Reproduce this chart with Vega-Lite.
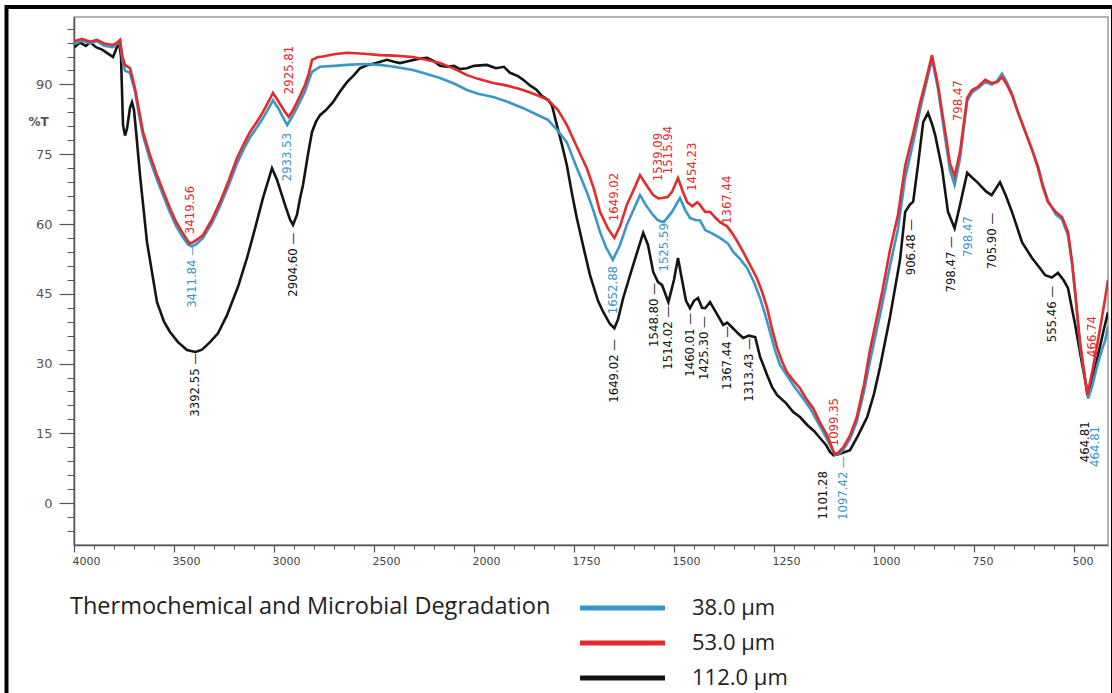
{
"$schema": "https://vega.github.io/schema/vega-lite/v6.json",
"width": 1034, "height": 528,
"autosize": "none",
"padding": {"left": 74, "top": 17, "right": 4, "bottom": 148},
"background": "white",
"config": {"view": {"stroke": "#9a9a9a", "strokeWidth": 1.5}},
"title": {"text": "Thermochemical and Microbial Degradation", "orient": "top", "anchor": "start", "frame": "group", "offset": 0, "dx": -4, "dy": 626, "baseline": "middle", "font": "Open Sans", "fontSize": 23.5, "fontWeight": "normal", "color": "#222"},
"datasets": {
"spec": [
{"s":"112.0 µm","wn":3998,"t":98.0},{"s":"112.0 µm","wn":3970,"t":99.0},{"s":"112.0 µm","wn":3940,"t":98.3},{"s":"112.0 µm","wn":3920,"t":99.1},{"s":"112.0 µm","wn":3890,"t":98.0},{"s":"112.0 µm","wn":3860,"t":97.5},{"s":"112.0 µm","wn":3835,"t":96.8},{"s":"112.0 µm","wn":3805,"t":95.9},{"s":"112.0 µm","wn":3790,"t":97.5},{"s":"112.0 µm","wn":3775,"t":99.2},{"s":"112.0 µm","wn":3765,"t":96.0},{"s":"112.0 µm","wn":3755,"t":81.3},{"s":"112.0 µm","wn":3745,"t":79.0},{"s":"112.0 µm","wn":3735,"t":80.5},{"s":"112.0 µm","wn":3720,"t":85.0},{"s":"112.0 µm","wn":3710,"t":86.2},{"s":"112.0 µm","wn":3700,"t":84.5},{"s":"112.0 µm","wn":3690,"t":80.0},{"s":"112.0 µm","wn":3670,"t":70.5},{"s":"112.0 µm","wn":3635,"t":56.1},{"s":"112.0 µm","wn":3585,"t":43.2},{"s":"112.0 µm","wn":3550,"t":39.0},{"s":"112.0 µm","wn":3520,"t":36.8},{"s":"112.0 µm","wn":3480,"t":34.6},{"s":"112.0 µm","wn":3435,"t":32.9},{"s":"112.0 µm","wn":3392.55,"t":32.5},{"s":"112.0 µm","wn":3360,"t":33.0},{"s":"112.0 µm","wn":3320,"t":34.6},{"s":"112.0 µm","wn":3280,"t":36.5},{"s":"112.0 µm","wn":3235,"t":40.4},{"s":"112.0 µm","wn":3180,"t":46.5},{"s":"112.0 µm","wn":3135,"t":52.7},{"s":"112.0 µm","wn":3095,"t":59.0},{"s":"112.0 µm","wn":3055,"t":65.6},{"s":"112.0 µm","wn":3010,"t":72.0},{"s":"112.0 µm","wn":2985,"t":69.5},{"s":"112.0 µm","wn":2945,"t":64.1},{"s":"112.0 µm","wn":2920,"t":61.0},{"s":"112.0 µm","wn":2904.6,"t":59.8},{"s":"112.0 µm","wn":2885,"t":62.0},{"s":"112.0 µm","wn":2870,"t":65.5},{"s":"112.0 µm","wn":2855,"t":68.4},{"s":"112.0 µm","wn":2830,"t":75.0},{"s":"112.0 µm","wn":2810,"t":79.8},{"s":"112.0 µm","wn":2790,"t":82.0},{"s":"112.0 µm","wn":2770,"t":83.4},{"s":"112.0 µm","wn":2740,"t":84.5},{"s":"112.0 µm","wn":2705,"t":86.2},{"s":"112.0 µm","wn":2670,"t":88.5},{"s":"112.0 µm","wn":2635,"t":90.5},{"s":"112.0 µm","wn":2600,"t":92.0},{"s":"112.0 µm","wn":2570,"t":93.5},{"s":"112.0 µm","wn":2530,"t":94.2},{"s":"112.0 µm","wn":2490,"t":94.6},{"s":"112.0 µm","wn":2435,"t":95.3},{"s":"112.0 µm","wn":2400,"t":94.9},{"s":"112.0 µm","wn":2370,"t":94.6},{"s":"112.0 µm","wn":2330,"t":95.0},{"s":"112.0 µm","wn":2280,"t":95.5},{"s":"112.0 µm","wn":2235,"t":95.7},{"s":"112.0 µm","wn":2200,"t":95.0},{"s":"112.0 µm","wn":2170,"t":94.0},{"s":"112.0 µm","wn":2135,"t":93.8},{"s":"112.0 µm","wn":2100,"t":94.0},{"s":"112.0 µm","wn":2070,"t":93.3},{"s":"112.0 µm","wn":2035,"t":93.5},{"s":"112.0 µm","wn":2000,"t":94.0},{"s":"112.0 µm","wn":1968,"t":94.2},{"s":"112.0 µm","wn":1945,"t":93.5},{"s":"112.0 µm","wn":1925,"t":93.8},{"s":"112.0 µm","wn":1910,"t":92.5},{"s":"112.0 µm","wn":1890,"t":91.8},{"s":"112.0 µm","wn":1877,"t":91.0},{"s":"112.0 µm","wn":1860,"t":89.8},{"s":"112.0 µm","wn":1843,"t":88.8},{"s":"112.0 µm","wn":1830,"t":87.5},{"s":"112.0 µm","wn":1815,"t":86.7},{"s":"112.0 µm","wn":1805,"t":85.5},{"s":"112.0 µm","wn":1793,"t":81.3},{"s":"112.0 µm","wn":1780,"t":77.0},{"s":"112.0 µm","wn":1768,"t":72.7},{"s":"112.0 µm","wn":1755,"t":66.5},{"s":"112.0 µm","wn":1743,"t":61.3},{"s":"112.0 µm","wn":1725,"t":54.5},{"s":"112.0 µm","wn":1710,"t":49.0},{"s":"112.0 µm","wn":1690,"t":43.5},{"s":"112.0 µm","wn":1677,"t":41.1},{"s":"112.0 µm","wn":1660,"t":38.5},{"s":"112.0 µm","wn":1649.02,"t":37.6},{"s":"112.0 µm","wn":1640,"t":39.5},{"s":"112.0 µm","wn":1627,"t":44.1},{"s":"112.0 µm","wn":1602,"t":51.2},{"s":"112.0 µm","wn":1577,"t":58.1},{"s":"112.0 µm","wn":1565,"t":55.5},{"s":"112.0 µm","wn":1552,"t":49.7},{"s":"112.0 µm","wn":1540,"t":47.5},{"s":"112.0 µm","wn":1530,"t":46.9},{"s":"112.0 µm","wn":1514.02,"t":43.2},{"s":"112.0 µm","wn":1500,"t":48.0},{"s":"112.0 µm","wn":1490,"t":52.7},{"s":"112.0 µm","wn":1480,"t":48.0},{"s":"112.0 µm","wn":1470,"t":43.5},{"s":"112.0 µm","wn":1460,"t":41.9},{"s":"112.0 µm","wn":1450,"t":43.5},{"s":"112.0 µm","wn":1440,"t":44.1},{"s":"112.0 µm","wn":1430,"t":42.0},{"s":"112.0 µm","wn":1422,"t":41.9},{"s":"112.0 µm","wn":1410,"t":43.2},{"s":"112.0 µm","wn":1395,"t":41.0},{"s":"112.0 µm","wn":1377,"t":38.3},{"s":"112.0 µm","wn":1367,"t":38.8},{"s":"112.0 µm","wn":1355,"t":37.8},{"s":"112.0 µm","wn":1340,"t":36.5},{"s":"112.0 µm","wn":1327,"t":35.5},{"s":"112.0 µm","wn":1313,"t":36.0},{"s":"112.0 µm","wn":1297,"t":35.7},{"s":"112.0 µm","wn":1285,"t":31.5},{"s":"112.0 µm","wn":1267,"t":27.5},{"s":"112.0 µm","wn":1255,"t":25.0},{"s":"112.0 µm","wn":1242,"t":23.2},{"s":"112.0 µm","wn":1220,"t":21.5},{"s":"112.0 µm","wn":1202,"t":19.6},{"s":"112.0 µm","wn":1185,"t":18.5},{"s":"112.0 µm","wn":1167,"t":16.8},{"s":"112.0 µm","wn":1150,"t":15.5},{"s":"112.0 µm","wn":1135,"t":14.0},{"s":"112.0 µm","wn":1120,"t":12.5},{"s":"112.0 µm","wn":1110,"t":11.0},{"s":"112.0 µm","wn":1101.28,"t":10.3},{"s":"112.0 µm","wn":1085,"t":10.6},{"s":"112.0 µm","wn":1060,"t":11.4},{"s":"112.0 µm","wn":1040,"t":14.5},{"s":"112.0 µm","wn":1017,"t":18.5},{"s":"112.0 µm","wn":1000,"t":23.5},{"s":"112.0 µm","wn":985,"t":29.2},{"s":"112.0 µm","wn":960,"t":40.0},{"s":"112.0 µm","wn":935,"t":52.3},{"s":"112.0 µm","wn":922,"t":62.6},{"s":"112.0 µm","wn":910,"t":64.2},{"s":"112.0 µm","wn":902,"t":64.8},{"s":"112.0 µm","wn":890,"t":72.7},{"s":"112.0 µm","wn":877,"t":81.9},{"s":"112.0 µm","wn":865,"t":83.9},{"s":"112.0 µm","wn":855,"t":81.5},{"s":"112.0 µm","wn":847,"t":79.1},{"s":"112.0 µm","wn":830,"t":72.0},{"s":"112.0 µm","wn":815,"t":62.6},{"s":"112.0 µm","wn":798.47,"t":59.1},{"s":"112.0 µm","wn":785,"t":64.1},{"s":"112.0 µm","wn":767,"t":71.0},{"s":"112.0 µm","wn":755,"t":70.0},{"s":"112.0 µm","wn":742,"t":69.0},{"s":"112.0 µm","wn":720,"t":67.0},{"s":"112.0 µm","wn":705.9,"t":66.2},{"s":"112.0 µm","wn":685,"t":69.0},{"s":"112.0 µm","wn":670,"t":66.0},{"s":"112.0 µm","wn":655,"t":62.6},{"s":"112.0 µm","wn":630,"t":56.1},{"s":"112.0 µm","wn":605,"t":52.7},{"s":"112.0 µm","wn":585,"t":50.5},{"s":"112.0 µm","wn":572,"t":49.0},{"s":"112.0 µm","wn":555.46,"t":48.5},{"s":"112.0 µm","wn":540,"t":49.5},{"s":"112.0 µm","wn":525,"t":47.8},{"s":"112.0 µm","wn":515,"t":46.2},{"s":"112.0 µm","wn":497,"t":38.3},{"s":"112.0 µm","wn":480,"t":30.0},{"s":"112.0 µm","wn":464.81,"t":23.2},{"s":"112.0 µm","wn":455,"t":26.0},{"s":"112.0 µm","wn":440,"t":31.8},{"s":"112.0 µm","wn":425,"t":37.5},{"s":"112.0 µm","wn":415,"t":41.0},
{"s":"38.0 µm","wn":3998,"t":98.7},{"s":"38.0 µm","wn":3960,"t":99.4},{"s":"38.0 µm","wn":3920,"t":98.9},{"s":"38.0 µm","wn":3885,"t":99.3},{"s":"38.0 µm","wn":3850,"t":98.3},{"s":"38.0 µm","wn":3805,"t":98.0},{"s":"38.0 µm","wn":3785,"t":98.7},{"s":"38.0 µm","wn":3770,"t":99.2},{"s":"38.0 µm","wn":3758,"t":95.3},{"s":"38.0 µm","wn":3745,"t":93.0},{"s":"38.0 µm","wn":3720,"t":92.5},{"s":"38.0 µm","wn":3695,"t":88.5},{"s":"38.0 µm","wn":3675,"t":83.5},{"s":"38.0 µm","wn":3655,"t":79.0},{"s":"38.0 µm","wn":3620,"t":73.8},{"s":"38.0 µm","wn":3585,"t":69.5},{"s":"38.0 µm","wn":3550,"t":65.7},{"s":"38.0 µm","wn":3520,"t":62.5},{"s":"38.0 µm","wn":3490,"t":59.6},{"s":"38.0 µm","wn":3460,"t":57.4},{"s":"38.0 µm","wn":3430,"t":55.6},{"s":"38.0 µm","wn":3411.84,"t":55.2},{"s":"38.0 µm","wn":3390,"t":55.6},{"s":"38.0 µm","wn":3355,"t":57.0},{"s":"38.0 µm","wn":3310,"t":60.2},{"s":"38.0 µm","wn":3270,"t":63.8},{"s":"38.0 µm","wn":3225,"t":68.5},{"s":"38.0 µm","wn":3185,"t":73.0},{"s":"38.0 µm","wn":3150,"t":76.2},{"s":"38.0 µm","wn":3120,"t":78.6},{"s":"38.0 µm","wn":3085,"t":80.8},{"s":"38.0 µm","wn":3055,"t":82.8},{"s":"38.0 µm","wn":3025,"t":85.0},{"s":"38.0 µm","wn":3005,"t":86.6},{"s":"38.0 µm","wn":2980,"t":85.0},{"s":"38.0 µm","wn":2950,"t":82.5},{"s":"38.0 µm","wn":2933.53,"t":81.3},{"s":"38.0 µm","wn":2910,"t":83.0},{"s":"38.0 µm","wn":2885,"t":85.0},{"s":"38.0 µm","wn":2865,"t":86.8},{"s":"38.0 µm","wn":2845,"t":88.5},{"s":"38.0 µm","wn":2825,"t":91.0},{"s":"38.0 µm","wn":2810,"t":92.7},{"s":"38.0 µm","wn":2770,"t":93.8},{"s":"38.0 µm","wn":2700,"t":94.0},{"s":"38.0 µm","wn":2635,"t":94.2},{"s":"38.0 µm","wn":2550,"t":94.4},{"s":"38.0 µm","wn":2470,"t":94.2},{"s":"38.0 µm","wn":2400,"t":93.8},{"s":"38.0 µm","wn":2305,"t":93.1},{"s":"38.0 µm","wn":2240,"t":92.3},{"s":"38.0 µm","wn":2170,"t":91.4},{"s":"38.0 µm","wn":2100,"t":90.2},{"s":"38.0 µm","wn":2035,"t":88.8},{"s":"38.0 µm","wn":1990,"t":88.0},{"s":"38.0 µm","wn":1952,"t":87.3},{"s":"38.0 µm","wn":1920,"t":86.4},{"s":"38.0 µm","wn":1877,"t":84.9},{"s":"38.0 µm","wn":1845,"t":83.6},{"s":"38.0 µm","wn":1815,"t":82.4},{"s":"38.0 µm","wn":1790,"t":80.0},{"s":"38.0 µm","wn":1768,"t":77.6},{"s":"38.0 µm","wn":1745,"t":72.5},{"s":"38.0 µm","wn":1718,"t":66.9},{"s":"38.0 µm","wn":1700,"t":62.5},{"s":"38.0 µm","wn":1685,"t":58.3},{"s":"38.0 µm","wn":1670,"t":55.0},{"s":"38.0 µm","wn":1652.88,"t":52.3},{"s":"38.0 µm","wn":1635,"t":55.5},{"s":"38.0 µm","wn":1618,"t":59.8},{"s":"38.0 µm","wn":1600,"t":63.3},{"s":"38.0 µm","wn":1585,"t":66.2},{"s":"38.0 µm","wn":1570,"t":64.0},{"s":"38.0 µm","wn":1552,"t":61.9},{"s":"38.0 µm","wn":1540,"t":60.8},{"s":"38.0 µm","wn":1525.59,"t":60.4},{"s":"38.0 µm","wn":1505,"t":62.6},{"s":"38.0 µm","wn":1485,"t":65.6},{"s":"38.0 µm","wn":1472,"t":63.0},{"s":"38.0 µm","wn":1460,"t":61.3},{"s":"38.0 µm","wn":1445,"t":60.8},{"s":"38.0 µm","wn":1435,"t":60.8},{"s":"38.0 µm","wn":1422,"t":58.7},{"s":"38.0 µm","wn":1405,"t":58.0},{"s":"38.0 µm","wn":1385,"t":57.0},{"s":"38.0 µm","wn":1365,"t":55.8},{"s":"38.0 µm","wn":1352,"t":54.0},{"s":"38.0 µm","wn":1335,"t":52.5},{"s":"38.0 µm","wn":1317,"t":50.5},{"s":"38.0 µm","wn":1300,"t":47.5},{"s":"38.0 µm","wn":1285,"t":44.1},{"s":"38.0 µm","wn":1272,"t":40.5},{"s":"38.0 µm","wn":1260,"t":36.8},{"s":"38.0 µm","wn":1248,"t":33.0},{"s":"38.0 µm","wn":1235,"t":29.7},{"s":"38.0 µm","wn":1218,"t":27.5},{"s":"38.0 µm","wn":1202,"t":25.4},{"s":"38.0 µm","wn":1180,"t":22.8},{"s":"38.0 µm","wn":1160,"t":20.4},{"s":"38.0 µm","wn":1143,"t":17.8},{"s":"38.0 µm","wn":1127,"t":15.3},{"s":"38.0 µm","wn":1110,"t":12.5},{"s":"38.0 µm","wn":1097.42,"t":10.4},{"s":"38.0 µm","wn":1085,"t":10.8},{"s":"38.0 µm","wn":1077,"t":11.5},{"s":"38.0 µm","wn":1060,"t":13.8},{"s":"38.0 µm","wn":1043,"t":17.5},{"s":"38.0 µm","wn":1025,"t":24.0},{"s":"38.0 µm","wn":1010,"t":30.5},{"s":"38.0 µm","wn":995,"t":36.5},{"s":"38.0 µm","wn":980,"t":42.5},{"s":"38.0 µm","wn":960,"t":51.0},{"s":"38.0 µm","wn":940,"t":59.0},{"s":"38.0 µm","wn":922,"t":70.0},{"s":"38.0 µm","wn":902,"t":77.5},{"s":"38.0 µm","wn":885,"t":84.5},{"s":"38.0 µm","wn":870,"t":90.0},{"s":"38.0 µm","wn":855,"t":95.5},{"s":"38.0 µm","wn":840,"t":89.0},{"s":"38.0 µm","wn":822,"t":78.5},{"s":"38.0 µm","wn":810,"t":71.5},{"s":"38.0 µm","wn":798.47,"t":68.4},{"s":"38.0 µm","wn":785,"t":74.0},{"s":"38.0 µm","wn":775,"t":81.0},{"s":"38.0 µm","wn":767,"t":86.5},{"s":"38.0 µm","wn":755,"t":88.3},{"s":"38.0 µm","wn":740,"t":89.2},{"s":"38.0 µm","wn":722,"t":90.5},{"s":"38.0 µm","wn":705,"t":90.0},{"s":"38.0 µm","wn":692,"t":90.8},{"s":"38.0 µm","wn":680,"t":92.3},{"s":"38.0 µm","wn":668,"t":90.5},{"s":"38.0 µm","wn":655,"t":88.0},{"s":"38.0 µm","wn":640,"t":84.0},{"s":"38.0 µm","wn":622,"t":80.0},{"s":"38.0 µm","wn":605,"t":76.0},{"s":"38.0 µm","wn":590,"t":72.5},{"s":"38.0 µm","wn":578,"t":68.5},{"s":"38.0 µm","wn":565,"t":65.0},{"s":"38.0 µm","wn":545,"t":62.0},{"s":"38.0 µm","wn":530,"t":61.0},{"s":"38.0 µm","wn":515,"t":57.5},{"s":"38.0 µm","wn":505,"t":51.5},{"s":"38.0 µm","wn":497,"t":45.0},{"s":"38.0 µm","wn":485,"t":34.0},{"s":"38.0 µm","wn":464.81,"t":22.5},{"s":"38.0 µm","wn":455,"t":25.0},{"s":"38.0 µm","wn":442,"t":29.5},{"s":"38.0 µm","wn":430,"t":33.0},{"s":"38.0 µm","wn":422,"t":35.0},{"s":"38.0 µm","wn":415,"t":38.0},
{"s":"53.0 µm","wn":3998,"t":99.3},{"s":"53.0 µm","wn":3960,"t":99.8},{"s":"53.0 µm","wn":3920,"t":99.2},{"s":"53.0 µm","wn":3885,"t":99.6},{"s":"53.0 µm","wn":3850,"t":98.8},{"s":"53.0 µm","wn":3805,"t":98.5},{"s":"53.0 µm","wn":3785,"t":99.0},{"s":"53.0 µm","wn":3770,"t":99.6},{"s":"53.0 µm","wn":3758,"t":96.0},{"s":"53.0 µm","wn":3745,"t":94.2},{"s":"53.0 µm","wn":3720,"t":93.5},{"s":"53.0 µm","wn":3695,"t":89.2},{"s":"53.0 µm","wn":3675,"t":84.5},{"s":"53.0 µm","wn":3655,"t":79.8},{"s":"53.0 µm","wn":3620,"t":74.8},{"s":"53.0 µm","wn":3585,"t":70.5},{"s":"53.0 µm","wn":3550,"t":66.6},{"s":"53.0 µm","wn":3520,"t":63.4},{"s":"53.0 µm","wn":3490,"t":60.5},{"s":"53.0 µm","wn":3460,"t":58.3},{"s":"53.0 µm","wn":3430,"t":56.3},{"s":"53.0 µm","wn":3419.56,"t":55.8},{"s":"53.0 µm","wn":3400,"t":56.2},{"s":"53.0 µm","wn":3380,"t":56.8},{"s":"53.0 µm","wn":3355,"t":57.6},{"s":"53.0 µm","wn":3310,"t":61.0},{"s":"53.0 µm","wn":3270,"t":64.7},{"s":"53.0 µm","wn":3225,"t":69.5},{"s":"53.0 µm","wn":3185,"t":74.2},{"s":"53.0 µm","wn":3150,"t":77.3},{"s":"53.0 µm","wn":3120,"t":79.8},{"s":"53.0 µm","wn":3085,"t":82.0},{"s":"53.0 µm","wn":3055,"t":84.1},{"s":"53.0 µm","wn":3025,"t":86.5},{"s":"53.0 µm","wn":3005,"t":88.2},{"s":"53.0 µm","wn":2980,"t":86.5},{"s":"53.0 µm","wn":2945,"t":84.1},{"s":"53.0 µm","wn":2925.81,"t":83.0},{"s":"53.0 µm","wn":2905,"t":84.5},{"s":"53.0 µm","wn":2885,"t":86.2},{"s":"53.0 µm","wn":2865,"t":88.0},{"s":"53.0 µm","wn":2845,"t":89.9},{"s":"53.0 µm","wn":2825,"t":92.5},{"s":"53.0 µm","wn":2810,"t":95.3},{"s":"53.0 µm","wn":2780,"t":95.9},{"s":"53.0 µm","wn":2755,"t":96.0},{"s":"53.0 µm","wn":2700,"t":96.5},{"s":"53.0 µm","wn":2635,"t":96.8},{"s":"53.0 µm","wn":2550,"t":96.6},{"s":"53.0 µm","wn":2470,"t":96.3},{"s":"53.0 µm","wn":2400,"t":96.2},{"s":"53.0 µm","wn":2305,"t":95.9},{"s":"53.0 µm","wn":2240,"t":95.3},{"s":"53.0 µm","wn":2170,"t":94.6},{"s":"53.0 µm","wn":2100,"t":93.4},{"s":"53.0 µm","wn":2035,"t":92.0},{"s":"53.0 µm","wn":1990,"t":91.2},{"s":"53.0 µm","wn":1952,"t":90.3},{"s":"53.0 µm","wn":1920,"t":89.8},{"s":"53.0 µm","wn":1877,"t":88.8},{"s":"53.0 µm","wn":1845,"t":87.8},{"s":"53.0 µm","wn":1815,"t":86.7},{"s":"53.0 µm","wn":1790,"t":84.5},{"s":"53.0 µm","wn":1768,"t":81.3},{"s":"53.0 µm","wn":1745,"t":77.0},{"s":"53.0 µm","wn":1718,"t":72.0},{"s":"53.0 µm","wn":1700,"t":67.5},{"s":"53.0 µm","wn":1685,"t":62.6},{"s":"53.0 µm","wn":1665,"t":59.0},{"s":"53.0 µm","wn":1649.02,"t":57.0},{"s":"53.0 µm","wn":1635,"t":59.5},{"s":"53.0 µm","wn":1618,"t":64.1},{"s":"53.0 µm","wn":1600,"t":67.5},{"s":"53.0 µm","wn":1585,"t":70.5},{"s":"53.0 µm","wn":1570,"t":68.5},{"s":"53.0 µm","wn":1552,"t":66.2},{"s":"53.0 µm","wn":1539.09,"t":65.5},{"s":"53.0 µm","wn":1530,"t":65.6},{"s":"53.0 µm","wn":1515.94,"t":65.8},{"s":"53.0 µm","wn":1505,"t":66.9},{"s":"53.0 µm","wn":1490,"t":69.9},{"s":"53.0 µm","wn":1478,"t":67.0},{"s":"53.0 µm","wn":1467,"t":64.7},{"s":"53.0 µm","wn":1454.23,"t":63.8},{"s":"53.0 µm","wn":1442,"t":64.7},{"s":"53.0 µm","wn":1435,"t":64.1},{"s":"53.0 µm","wn":1422,"t":62.6},{"s":"53.0 µm","wn":1410,"t":62.6},{"s":"53.0 µm","wn":1398,"t":61.5},{"s":"53.0 µm","wn":1385,"t":60.4},{"s":"53.0 µm","wn":1367.44,"t":59.5},{"s":"53.0 µm","wn":1355,"t":58.1},{"s":"53.0 µm","wn":1340,"t":56.0},{"s":"53.0 µm","wn":1327,"t":54.0},{"s":"53.0 µm","wn":1310,"t":51.2},{"s":"53.0 µm","wn":1293,"t":48.4},{"s":"53.0 µm","wn":1280,"t":45.5},{"s":"53.0 µm","wn":1267,"t":41.9},{"s":"53.0 µm","wn":1255,"t":37.5},{"s":"53.0 µm","wn":1242,"t":33.3},{"s":"53.0 µm","wn":1230,"t":30.5},{"s":"53.0 µm","wn":1218,"t":28.2},{"s":"53.0 µm","wn":1200,"t":26.2},{"s":"53.0 µm","wn":1185,"t":24.7},{"s":"53.0 µm","wn":1170,"t":22.5},{"s":"53.0 µm","wn":1152,"t":20.4},{"s":"53.0 µm","wn":1135,"t":17.3},{"s":"53.0 µm","wn":1117,"t":14.6},{"s":"53.0 µm","wn":1099.35,"t":10.6},{"s":"53.0 µm","wn":1090,"t":10.8},{"s":"53.0 µm","wn":1077,"t":12.0},{"s":"53.0 µm","wn":1060,"t":14.5},{"s":"53.0 µm","wn":1043,"t":18.5},{"s":"53.0 µm","wn":1025,"t":25.5},{"s":"53.0 µm","wn":1010,"t":32.9},{"s":"53.0 µm","wn":995,"t":39.0},{"s":"53.0 µm","wn":980,"t":45.2},{"s":"53.0 µm","wn":960,"t":54.4},{"s":"53.0 µm","wn":940,"t":62.0},{"s":"53.0 µm","wn":922,"t":72.5},{"s":"53.0 µm","wn":902,"t":79.5},{"s":"53.0 µm","wn":885,"t":86.0},{"s":"53.0 µm","wn":870,"t":91.0},{"s":"53.0 µm","wn":855,"t":96.3},{"s":"53.0 µm","wn":840,"t":89.9},{"s":"53.0 µm","wn":822,"t":79.8},{"s":"53.0 µm","wn":810,"t":73.0},{"s":"53.0 µm","wn":798.47,"t":70.3},{"s":"53.0 µm","wn":785,"t":75.5},{"s":"53.0 µm","wn":775,"t":82.0},{"s":"53.0 µm","wn":767,"t":87.1},{"s":"53.0 µm","wn":755,"t":88.8},{"s":"53.0 µm","wn":740,"t":89.5},{"s":"53.0 µm","wn":722,"t":91.0},{"s":"53.0 µm","wn":705,"t":90.3},{"s":"53.0 µm","wn":692,"t":90.5},{"s":"53.0 µm","wn":680,"t":91.6},{"s":"53.0 µm","wn":668,"t":90.0},{"s":"53.0 µm","wn":655,"t":87.7},{"s":"53.0 µm","wn":640,"t":84.0},{"s":"53.0 µm","wn":622,"t":79.8},{"s":"53.0 µm","wn":605,"t":76.0},{"s":"53.0 µm","wn":590,"t":72.0},{"s":"53.0 µm","wn":578,"t":68.0},{"s":"53.0 µm","wn":565,"t":64.7},{"s":"53.0 µm","wn":545,"t":62.5},{"s":"53.0 µm","wn":530,"t":61.5},{"s":"53.0 µm","wn":515,"t":58.3},{"s":"53.0 µm","wn":505,"t":52.0},{"s":"53.0 µm","wn":497,"t":45.4},{"s":"53.0 µm","wn":485,"t":34.6},{"s":"53.0 µm","wn":466.74,"t":23.2},{"s":"53.0 µm","wn":455,"t":28.0},{"s":"53.0 µm","wn":442,"t":34.0},{"s":"53.0 µm","wn":432,"t":39.0},{"s":"53.0 µm","wn":422,"t":44.1},{"s":"53.0 µm","wn":415,"t":48.0}
],
"peaks": [
{"s":"53.0 µm","lab":"3419.56","lx":3419.56,"ly":57.6},{"s":"53.0 µm","lab":"2925.81","lx":2925.81,"ly":87.7},{"s":"53.0 µm","lab":"1649.02","lx":1649.02,"ly":60.4},{"s":"53.0 µm","lab":"1539.09","lx":1539.09,"ly":69.0},{"s":"53.0 µm","lab":"1515.94","lx":1515.94,"ly":70.5},{"s":"53.0 µm","lab":"1454.23","lx":1454.23,"ly":66.9},{"s":"53.0 µm","lab":"1367.44","lx":1367.44,"ly":59.8},{"s":"53.0 µm","lab":"1099.35","lx":1099.35,"ly":12.0},{"s":"53.0 µm","lab":"798.47","lx":790,"ly":81.9},{"s":"53.0 µm","lab":"466.74","lx":455,"ly":31.2},
{"s":"38.0 µm","lab":"3411.84 —","lx":3411.84,"ly":55.9},{"s":"38.0 µm","lab":"2933.53","lx":2933.53,"ly":79.8},{"s":"38.0 µm","lab":"1652.88","lx":1652.88,"ly":51.2},{"s":"38.0 µm","lab":"1525.59","lx":1525.59,"ly":60.4},{"s":"38.0 µm","lab":"1097.42 —","lx":1077.5,"ly":10.3},{"s":"38.0 µm","lab":"798.47","lx":765,"ly":61.9},{"s":"38.0 µm","lab":"464.81","lx":447.5,"ly":16.8},
{"s":"112.0 µm","lab":"3392.55 —","lx":3392.55,"ly":32.5},{"s":"112.0 µm","lab":"2904.60 —","lx":2904.6,"ly":58.3},{"s":"112.0 µm","lab":"1649.02 —","lx":1649.02,"ly":35.5},{"s":"112.0 µm","lab":"1548.80 —","lx":1548.8,"ly":47.5},{"s":"112.0 µm","lab":"1514.02 —","lx":1514.02,"ly":42.6},{"s":"112.0 µm","lab":"1460.01 —","lx":1460.01,"ly":41.1},{"s":"112.0 µm","lab":"1425.30 —","lx":1425.3,"ly":40.4},{"s":"112.0 µm","lab":"1367.44 —","lx":1367.44,"ly":38.3},{"s":"112.0 µm","lab":"1313.43 —","lx":1313.43,"ly":35.7},{"s":"112.0 µm","lab":"1101.28","lx":1127.5,"ly":7.1},{"s":"112.0 µm","lab":"906.48 —","lx":906.48,"ly":61.3},{"s":"112.0 µm","lab":"798.47 —","lx":807.5,"ly":57.6},{"s":"112.0 µm","lab":"705.90 —","lx":705.9,"ly":62.6},{"s":"112.0 µm","lab":"555.46 —","lx":555.46,"ly":46.9},{"s":"112.0 µm","lab":"464.81","lx":472.5,"ly":17.8}
]
},
"resolve": {"scale": {"x": "shared", "y": "shared", "color": "shared"}, "axis": {"x": "independent", "y": "independent"}},
"layer": [
{
 "data": {"name": "spec"},
 "mark": {"type": "line", "strokeWidth": 2.6, "clip": true},
 "encoding": {
  "x": {"field": "wn", "type": "quantitative", "scale": {"domain": [4000, 2000, 415], "range": [0, 400, 1034], "nice": false, "zero": false},
        "axis": {"orient": "bottom", "title": null, "format": "d", "values": [4000,3500,3000,2500,2000,1750,1500,1250,1000,750,500], "grid": false, "tickSize": 7, "tickColor": "#555", "tickWidth": 1.2, "domainColor": "#555", "domainWidth": 1.5, "labelAlign": "left", "labelOffset": -2, "labelPadding": 3, "labelFont": "DejaVu Sans", "labelFontSize": 11, "labelColor": "#444", "labelFlush": false, "labelOverlap": false}},
  "y": {"field": "t", "type": "quantitative", "scale": {"domain": [-9, 104.5], "nice": false, "zero": false},
        "axis": {"orient": "left", "values": [0,15,30,45,60,75,90], "grid": false, "tickSize": 15, "tickColor": "#555", "tickWidth": 1.2, "domainColor": "#555", "domainWidth": 1.5, "labelPadding": 7, "labelFont": "DejaVu Sans", "labelFontSize": 13, "labelColor": "#555", "title": "%T", "titleAngle": 0, "titleX": -36, "titleY": 104, "titleAlign": "center", "titleBaseline": "middle", "titleFont": "DejaVu Sans", "titleFontSize": 12, "titleFontWeight": "bold", "titleColor": "#555"}},
  "color": {"field": "s", "type": "nominal", "scale": {"domain": ["38.0 µm", "53.0 µm", "112.0 µm"], "range": ["#3a98c6", "#e52a2d", "#141414"]},
        "legend": {"orient": "none", "legendX": 536, "legendY": 578.5, "title": null, "symbolType": "M-4.25,0H4.25", "symbolSize": 400, "symbolStrokeWidth": 5, "labelFont": "Open Sans", "labelFontSize": 22, "labelColor": "#222", "labelOffset": 57, "rowPadding": 11, "padding": 0}}
 }
},
{
 "data": {"name": "peaks"},
 "transform": [{"filter": "datum.s == '53.0 µm'"}],
 "mark": {"type": "text", "angle": 270, "align": "left", "baseline": "middle", "dx": 1, "font": "Liberation Sans Narrow, DejaVu Sans Condensed, sans-serif", "fontSize": 13},
 "encoding": {
  "x": {"field": "lx", "type": "quantitative", "axis": {"orient": "bottom", "values": [3900,3800,3700,3600,3400,3300,3200,3100,2900,2800,2700,2600,2400,2300,2200,2100,1950,1900,1850,1800,1700,1650,1600,1550,1450,1400,1350,1300,1200,1150,1100,1050,950,900,850,800,700,650,600,550,450], "labels": false, "domain": false, "grid": false, "tickSize": 4, "tickColor": "#555", "tickWidth": 1, "title": null}},
  "y": {"field": "ly", "type": "quantitative", "axis": {"orient": "left", "values": [-6,-3,3,6,9,12,18,21,24,27,33,36,39,42,48,51,54,57,63,66,69,72,78,81,84,87,93,96,99,102], "labels": false, "domain": false, "grid": false, "tickSize": 7, "tickColor": "#555", "tickWidth": 1, "title": null}},
  "color": {"field": "s", "type": "nominal", "legend": null},
  "text": {"field": "lab"}
 }
},
{
 "data": {"name": "peaks"},
 "transform": [{"filter": "datum.s != '53.0 µm'"}],
 "mark": {"type": "text", "angle": 270, "align": "right", "baseline": "middle", "dx": -1, "font": "Liberation Sans Narrow, DejaVu Sans Condensed, sans-serif", "fontSize": 13},
 "encoding": {
  "x": {"field": "lx", "type": "quantitative", "axis": null},
  "y": {"field": "ly", "type": "quantitative", "axis": null},
  "color": {"field": "s", "type": "nominal", "legend": null},
  "text": {"field": "lab"}
 }
},
{
 "data": {"values": [{"frame": "outer"}]},
 "mark": {"type": "rect", "fill": null, "stroke": "#000", "strokeWidth": 4, "clip": false},
 "encoding": {
  "x": {"datum": 4337.5, "type": "quantitative", "axis": null},
  "x2": {"datum": 402.5},
  "y": {"datum": 106.65, "type": "quantitative", "axis": null},
  "y2": {"datum": -50}
 }
}
]
}
